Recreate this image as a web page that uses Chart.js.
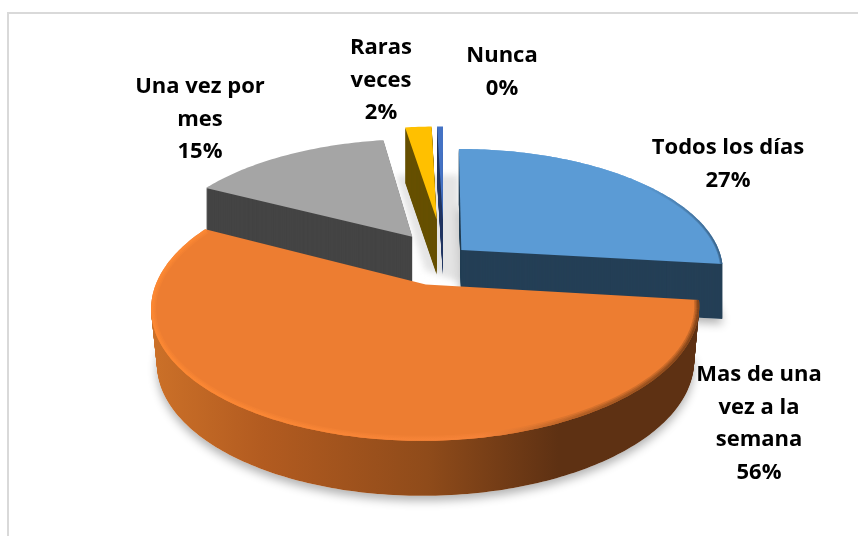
<!DOCTYPE html>
<html><head><meta charset="utf-8">
<style>html,body{margin:0;padding:0;background:#fff}canvas{display:block}</style>
<script src="https://cdn.jsdelivr.net/npm/chart.js@4"></script>
</head><body><canvas id="c" width="858" height="536"></canvas>
<script>
const categories = ['Todos los días','Mas de una vez a la semana','Una vez por mes','Raras veces','Nunca'];
const values = [27,56,15,2,0.45];
const percentLabels = ['27%','56%','15%','2%','0%'];
const explode = [9,23,21.5,33,33];
const topColors = ['#5b9bd5','#ed7d31','#a5a5a5','#ffc000','#4472c4'];
const wallColors = ['#243f56','#5e3113','#444444','#665000','#203864'];
const labelLines = [['Todos los días','27%'],['Mas de una','vez a la','semana','56%'],['Una vez por','mes','15%'],['Raras','veces','2%'],['Nunca','0%']];
const labelAnchors = [[728,148],[759,375],[200,87],[381,48],[502,56]];
const drawOrder = [4,3,2,0,1];
const CX=444, CY=257, A=260, B=120, P=0.167, H=55, LINE=32.5;

function proj(U,V){const d=1-P*V;return [CX+A*U/d, CY+B*V/d];}
function slicePts(arc,i){
  const s=arc.startAngle,e=arc.endAngle,m=(s+e)/2,o=explode[i]/100;
  const dx=Math.cos(m)*o,dy=Math.sin(m)*o,pts=[proj(dx,dy)],outer=[];
  const n=Math.max(2,Math.ceil((e-s)*60));
  for(let k=0;k<=n;k++){const a=s+(e-s)*k/n;const p=proj(Math.cos(a)+dx,Math.sin(a)+dy);pts.push(p);outer.push(p);}
  return {pts,outer};
}
function trace(ctx,pts,yo,shrink){
  const f=1-(shrink||0)*yo/H;
  ctx.beginPath();
  pts.forEach((p,k)=>{const x=CX+(p[0]-CX)*f;k?ctx.lineTo(x,p[1]+yo):ctx.moveTo(x,p[1]+yo);});
}

const pie3d={id:'pie3d',
 beforeDatasetsDraw(chart){
  const ctx=chart.ctx,arcs=chart.getDatasetMeta(0).data;
  ctx.save();
  ctx.fillStyle='#fff';ctx.fillRect(0,0,858,536);
  ctx.strokeStyle='#d9d9d9';ctx.lineWidth=2;
  ctx.beginPath();ctx.moveTo(8,536);ctx.lineTo(8,13);ctx.lineTo(858,13);ctx.stroke();
  // soft backdrop seen through the gap between slices
  ctx.save();ctx.filter='blur(3px)';ctx.fillStyle='#e4e4e4';ctx.beginPath();
  ctx.moveTo(396,175);ctx.lineTo(459,175);ctx.lineTo(459,282);ctx.lineTo(425,270);ctx.closePath();ctx.fill();ctx.restore();
  const wallGrad=ctx.createLinearGradient(155,0,700,0);
  wallGrad.addColorStop(0,'#cb7028');wallGrad.addColorStop(.2,'#b25b20');wallGrad.addColorStop(.5,'#8f4b1a');wallGrad.addColorStop(.74,'#5e3113');wallGrad.addColorStop(1,'#5e3113');
  for(const i of drawOrder){
    const {pts,outer}=slicePts(arcs[i],i);
    const sh=i===1?0.02:0;
    if(i<2){ctx.save();ctx.shadowColor='rgba(0,0,0,.3)';ctx.shadowBlur=10;ctx.shadowOffsetY=5;ctx.fillStyle='#fff';trace(ctx,pts,H,sh);ctx.closePath();ctx.fill();ctx.restore();}
    ctx.fillStyle=i===1?wallGrad:wallColors[i];
    for(let y=H;y>0;y-=1){trace(ctx,pts,y,sh);ctx.closePath();ctx.fill();}
    ctx.fillStyle=topColors[i];trace(ctx,pts,0);ctx.closePath();ctx.fill();
    if(i<2){
      ctx.save();trace(ctx,pts,0);ctx.closePath();ctx.clip();
      let st;
      if(i===1){st=ctx.createLinearGradient(155,0,700,0);
        st.addColorStop(0,'#ff8a33');st.addColorStop(.6,'#f7843a');st.addColorStop(.78,'#a85a22');st.addColorStop(1,'#6e3914');}
      else{st=ctx.createLinearGradient(640,0,722,0);st.addColorStop(0,'#5b9bd5');st.addColorStop(1,'#33597c');}
      ctx.strokeStyle=st;ctx.lineJoin='round';
      for(const [w,al] of (i===1?[[10,.3],[7,.4],[4,.6]]:[[5,.5],[3,.7]])){ctx.globalAlpha=al;ctx.lineWidth=w;trace(ctx,outer,0);ctx.stroke();}
      ctx.restore();
    }
  }
  ctx.fillStyle='#000';ctx.textAlign='center';ctx.textBaseline='middle';
  ctx.font='bold 22px "Open Sans"';
  labelLines.forEach((ls,i)=>ls.forEach((t,k)=>ctx.fillText(t,labelAnchors[i][0],labelAnchors[i][1]+k*LINE)));
  ctx.restore();
  return false;
 }};

new Chart(document.getElementById('c'),{
  type:'pie',
  data:{labels:categories,datasets:[{data:values,backgroundColor:topColors,borderWidth:0,offset:explode}]},
  options:{responsive:false,animation:false,plugins:{legend:{display:false},tooltip:{enabled:false}}},
  plugins:[pie3d]
});
</script></body></html>
